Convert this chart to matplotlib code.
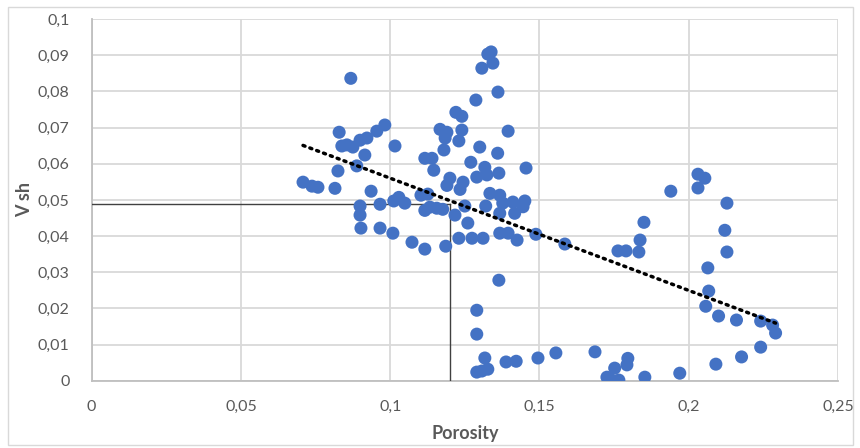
import numpy as np
import matplotlib
matplotlib.use("Agg")
import matplotlib.pyplot as plt
from matplotlib.patches import Rectangle
from matplotlib.ticker import FuncFormatter

plt.rcParams['font.family'] = ['Lato', 'DejaVu Sans']

# Porosity / shale volume samples
porosity = [
    0.0708, 0.0738, 0.0758, 0.0815, 0.0825, 0.0829, 0.0838, 0.0855, 0.0868, 0.0875,
    0.0888, 0.0899, 0.0922, 0.0915, 0.0955, 0.0982, 0.0936, 0.0899, 0.0899, 0.0902,
    0.0966, 0.0966, 0.1016, 0.1012, 0.1029, 0.1049, 0.1009, 0.1073, 0.1116, 0.1186,
    0.1116, 0.1140, 0.1146, 0.1103, 0.1126, 0.1116, 0.1133, 0.1156, 0.1176,
    0.1338, 0.1327, 0.1344, 0.1307, 0.1361, 0.1287, 0.1220, 0.1240, 0.1167, 0.1190,
    0.1184, 0.1240, 0.1230, 0.1395, 0.1180, 0.1300, 0.1360, 0.1270, 0.1317, 0.1455,
    0.1200, 0.1190, 0.1244, 0.1234, 0.1290, 0.1324, 0.1364, 0.1334, 0.1367, 0.1377,
    0.1411, 0.1451, 0.1445, 0.1320, 0.1367, 0.1417, 0.1250, 0.1217, 0.1260, 0.1230,
    0.1274, 0.1311, 0.1367, 0.1395, 0.1425, 0.1488, 0.1585,
    0.1364, 0.1290, 0.1290, 0.1317, 0.1290, 0.1307, 0.1327, 0.1388, 0.1422, 0.1495,
    0.1555,
    0.1940, 0.1850, 0.1837, 0.1833, 0.1763, 0.1790, 0.1686, 0.1726, 0.1736, 0.1752,
    0.1766, 0.1796, 0.1793, 0.1853, 0.1970,
    0.2031, 0.2054, 0.2031, 0.2128, 0.2121, 0.2128, 0.2064, 0.2067, 0.2057, 0.2100,
    0.2160, 0.2241, 0.2281, 0.2291, 0.2241, 0.2177, 0.2091,
]
vsh = [
    0.0549, 0.0538, 0.0535, 0.0532, 0.0580, 0.0687, 0.0649, 0.0652, 0.0836, 0.0646,
    0.0594, 0.0665, 0.0671, 0.0624, 0.0690, 0.0707, 0.0524, 0.0483, 0.0458, 0.0422,
    0.0488, 0.0422, 0.0649, 0.0497, 0.0507, 0.0491, 0.0408, 0.0383, 0.0364, 0.0372,
    0.0615, 0.0615, 0.0582, 0.0513, 0.0516, 0.0471, 0.0480, 0.0477, 0.0474,
    0.0909, 0.0903, 0.0878, 0.0864, 0.0798, 0.0776, 0.0742, 0.0731, 0.0695, 0.0687,
    0.0671, 0.0693, 0.0663, 0.0690, 0.0638, 0.0646, 0.0629, 0.0604, 0.0590, 0.0588,
    0.0560, 0.0540, 0.0549, 0.0529, 0.0563, 0.0569, 0.0574, 0.0518, 0.0513, 0.0491,
    0.0494, 0.0497, 0.0481, 0.0483, 0.0463, 0.0463, 0.0483, 0.0458, 0.0436, 0.0394,
    0.0394, 0.0394, 0.0408, 0.0408, 0.0389, 0.0405, 0.0378,
    0.0278, 0.0195, 0.0129, 0.0063, 0.0024, 0.0027, 0.0032, 0.0052, 0.0054, 0.0063,
    0.0077,
    0.0524, 0.0438, 0.0389, 0.0356, 0.0359, 0.0359, 0.0080, 0.0010, 0.0005, 0.0035,
    0.0002, 0.0062, 0.0044, 0.0010, 0.0021,
    0.0571, 0.0560, 0.0533, 0.0491, 0.0416, 0.0356, 0.0312, 0.0248, 0.0206, 0.0179,
    0.0168, 0.0165, 0.0154, 0.0132, 0.0093, 0.0066, 0.0046,
]

# Cut-off values marked on the plot
porosity_cutoff = 0.12
vsh_cutoff = 0.049

x_ticks = [0, 0.05, 0.1, 0.15, 0.2, 0.25]
y_ticks = [0, 0.01, 0.02, 0.03, 0.04, 0.05, 0.06, 0.07, 0.08, 0.09, 0.1]

fig = plt.figure(figsize=(8.6, 4.48), dpi=100)
ax = fig.add_axes([0.1066, 0.150, 0.8678, 0.8076])

grid_c = '#D9D9D9'
text_c = '#595959'

x = np.array(porosity)
y = np.array(vsh)

ax.scatter(x, y, s=88, color='#4472C4', edgecolors='none', zorder=4)

# Linear trend over the data range
slope, icpt = np.polyfit(x, y, 1)
xt = np.array([x.min(), x.max()])
ax.plot(xt, slope * xt + icpt, color='black', lw=2.5,
        linestyle=(0, (0.6, 1.5)), dash_capstyle='round', zorder=5)

# Cut-off guide lines
ax.plot([0, porosity_cutoff], [vsh_cutoff, vsh_cutoff], color='#404040', lw=1.0, zorder=3)
ax.plot([porosity_cutoff, porosity_cutoff], [0, vsh_cutoff], color='#404040', lw=1.0, zorder=3)

ax.set_xlim(0, 0.25)
ax.set_ylim(0, 0.1)
ax.set_xticks(x_ticks)
ax.set_yticks(y_ticks)

fmt = FuncFormatter(lambda v, p: ('%g' % round(v, 3)).replace('.', ','))
ax.xaxis.set_major_formatter(fmt)
ax.yaxis.set_major_formatter(fmt)

ax.grid(True, color=grid_c, lw=1.3, zorder=0)
ax.set_axisbelow(True)
for side in ['top', 'right']:
    ax.spines[side].set_visible(False)
for side in ['left', 'bottom']:
    ax.spines[side].set_color('#BFBFBF')
    ax.spines[side].set_linewidth(1.3)

ax.tick_params(length=0, labelsize=11.5, labelcolor=text_c)
ax.tick_params(axis='x', pad=14)
ax.tick_params(axis='y', pad=16)

ax.set_xlabel('Porosity', fontsize=13, fontweight='bold', color=text_c, labelpad=8)
ax.set_ylabel('V sh', fontsize=13, fontweight='bold', color=text_c, labelpad=3)

fig.patches.append(Rectangle((7.5 / 860, 3.5 / 448), 845 / 860, 437 / 448,
                             transform=fig.transFigure, fill=False,
                             edgecolor='#D9D9D9', lw=1.0))

fig.savefig('out.png', dpi=100)
